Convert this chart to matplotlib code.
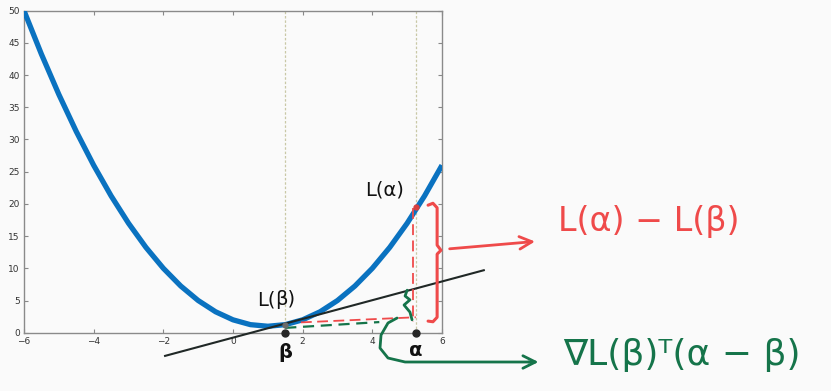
import matplotlib.pyplot as plt

# loss curve (every 0.5 on x)
curve_x = [-6, -5.5, -5, -4.5, -4, -3.5, -3, -2.5, -2, -1.5, -1, -0.5, 0,
           0.5, 1, 1.5, 2, 2.5, 3, 3.5, 4, 4.5, 5, 5.5, 6]
curve_y = [50, 43.25, 37, 31.25, 26, 21.25, 17, 13.25, 10, 7.25, 5, 3.25, 2,
           1.25, 1, 1.25, 2, 3.25, 5, 7.25, 10, 13.25, 17, 21.25, 26]

# tangent line at beta (end points)
tangent_x = [-1.95, 7.2]
tangent_y = [-3.6, 9.7]

beta, alpha = 1.5, 5.25
L_beta, L_alpha = 1.25, 19.5

# hand drawn marks (data units)
red_vert_x = [5.17, 5.17]
red_vert_y = [19.4, 1.7]
red_horiz_x = [1.95, 5.25]
red_horiz_y = [1.6, 2.4]
green_horiz_x = [1.5, 4.2]
green_horiz_y = [0.75, 1.65]
red_brace_x = [5.60, 5.74, 5.86, 5.86, 5.97, 5.86, 5.86, 5.74, 5.60]
red_brace_y = [19.8, 20.1, 19.4, 13.6, 12.8, 12.2, 2.4, 1.7, 1.8]
red_arrow = [(6.14, 12.99), (8.75, 14.2)]
green_brace_x = [5.0, 4.94, 5.08, 4.91, 5.08, 5.14]
green_brace_y = [6.6, 5.7, 5.1, 4.3, 3.2, 2.0]
green_hook_x = [4.71, 4.45, 4.25, 4.22, 4.45, 4.94, 8.5]
green_hook_y = [2.28, 1.51, -0.36, -2.38, -3.93, -4.55, -4.55]
green_arrow = [(8.4, -4.55), (8.85, -4.55)]

red = '#ef4a4a'
green = '#15744a'
bg = '#fafafa'

fig = plt.figure(figsize=(8.31, 3.91), dpi=100, facecolor=bg)
ax = fig.add_axes([24 / 831, 1 - 332.7 / 391, 418 / 831, 322 / 391])
ax.set_facecolor(bg)

ax.plot(curve_x, curve_y, color='#0a72c0', lw=3.8, solid_joinstyle='round',
        solid_capstyle='butt', zorder=3)
ax.plot(tangent_x, tangent_y, color='#202826', lw=1.5, clip_on=False, zorder=4)

for v in (beta, alpha):
    ax.plot([v, v], [0, 50], color='#c9c8a6', lw=0.9, ls=(0, (2, 1.5)), zorder=1)

ax.plot([beta, alpha], [0, 0], 'o', color='#262626', ms=5, clip_on=False, zorder=6)
ax.plot([beta], [L_beta], 'o', color='#6b6b6b', ms=3.5, zorder=6)
ax.plot([alpha], [L_alpha], 'o', color='#d94040', ms=3.5, zorder=6)

ax.text(4.36, 22.2, 'L(α)', fontsize=14, ha='center', va='center', color='#111')
ax.text(1.21, 5.1, 'L(', fontsize=14, ha='right', va='center', color='#111')
ax.text(1.21, 5.1, 'β)', fontsize=14, ha='left', va='center', color='#111')
ax.text(beta, -3.0, 'β', fontsize=14, fontweight='bold', ha='center', va='center',
        color='#111', clip_on=False)
ax.text(alpha, -2.7, 'α', fontsize=14, fontweight='bold', ha='center', va='center',
        color='#111', clip_on=False)

# red annotation
ax.plot(red_vert_x, red_vert_y, color=red, lw=1.3, ls=(0, (6, 3)), zorder=5)
ax.plot(red_horiz_x, red_horiz_y, color=red, lw=1.3, ls=(0, (6, 3)), zorder=5)
ax.plot(red_brace_x, red_brace_y, color=red, lw=2.2, clip_on=False,
        solid_joinstyle='round', solid_capstyle='round', zorder=5)
ax.annotate('', xy=red_arrow[1], xytext=red_arrow[0], annotation_clip=False,
            arrowprops=dict(arrowstyle='->,head_length=0.9,head_width=0.45',
                            color=red, lw=2.0))
ax.text(9.33, 17.2, 'L(α) − L(β)', fontsize=24, color=red, ha='left', va='center',
        clip_on=False)

# green annotation
ax.plot(green_horiz_x, green_horiz_y, color=green, lw=1.6, ls=(0, (5, 3)), zorder=5)
ax.plot(green_brace_x, green_brace_y, color=green, lw=2.0, clip_on=False,
        solid_joinstyle='round', solid_capstyle='round', zorder=5)
ax.plot(green_hook_x, green_hook_y, color=green, lw=2.0, clip_on=False,
        solid_joinstyle='round', solid_capstyle='round', zorder=5)
ax.annotate('', xy=green_arrow[1], xytext=green_arrow[0], annotation_clip=False,
            arrowprops=dict(arrowstyle='->,head_length=0.9,head_width=0.45',
                            color=green, lw=2.0))
ax.text(9.47, -3.5, '∇L(β)ᵀ(α − β)', fontsize=26, color=green, ha='left', va='center',
        clip_on=False)

ax.set_xlim(-6, 6)
ax.set_ylim(0, 50)
ax.set_xticks(range(-6, 7, 2))
ax.set_yticks(range(0, 51, 5))
ax.tick_params(direction='in', length=3, width=0.8, color='#888', labelsize=6.5,
               labelcolor='#333', top=True, right=True, pad=3)
for s in ax.spines.values():
    s.set_color('#8a8a8a')
    s.set_linewidth(1.0)

fig.savefig('out.png', dpi=100, facecolor=bg)
